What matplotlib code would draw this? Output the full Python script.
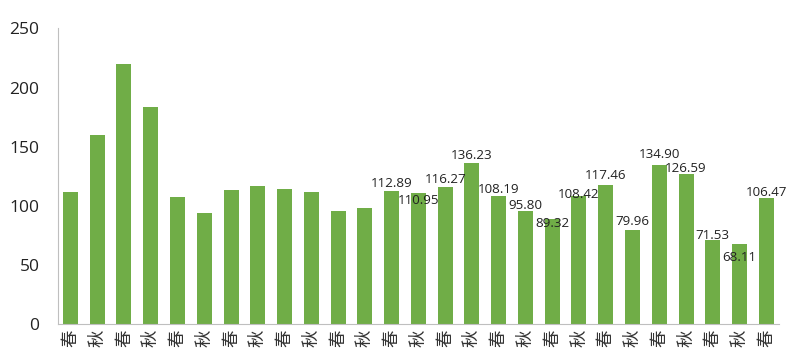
import matplotlib.pyplot as plt

# season labels and values
seasons = ['春', '秋'] * 13 + ['春']
values = [112.0, 160.1, 220.1, 183.5, 107.8, 94.3, 113.4, 117.1, 114.3, 112.0, 95.9, 97.9,
          112.89, 110.95, 116.27, 136.23, 108.19, 95.80, 89.32, 108.42, 117.46, 79.96,
          134.90, 126.59, 71.53, 68.11, 106.47]
n_unlabeled = 12
# vertical offset of each data label relative to bar top (pixels, positive = up)
label_dy = [7.6, -8, 7.6, 7.3, 7.2, 5.2, -4.8, 1.7, 10, 8.6, 10.6, 6, 4.6, -14, 6]

fig = plt.figure(figsize=(8, 3.55), dpi=100)
ax = fig.add_axes([0.072, 0.0865, 0.902, 0.8335])

x = list(range(len(values)))
ax.bar(x, values, width=0.56, color='#70AD47')

for i, v in enumerate(values[n_unlabeled:]):
    idx = i + n_unlabeled
    ax.annotate(f'{v:.2f}', (idx, v), xytext=(0, label_dy[i] * 0.72),
                textcoords='offset points', ha='center', va='center',
                fontsize=9.6, family='Open Sans', color='#222222')

ax.set_xlim(-0.48, len(values) - 0.52)
ax.set_ylim(0, 250)
ax.set_yticks(range(0, 251, 50))
ax.set_xticks(x)
ax.set_xticklabels(seasons, rotation=90, family='Noto Sans CJK SC', fontsize=12.5, color='#333333')
for lab in ax.get_yticklabels():
    lab.set_family('Open Sans')
    lab.set_fontsize(12.5)
    lab.set_color('#222222')
ax.tick_params(axis='y', length=0, pad=13)
ax.tick_params(axis='x', length=0, pad=4)

for s in ['top', 'right']:
    ax.spines[s].set_visible(False)
ax.spines['left'].set_color('#bfbfbf')
ax.spines['bottom'].set_color('#bfbfbf')

fig.savefig('out.png', dpi=100)
